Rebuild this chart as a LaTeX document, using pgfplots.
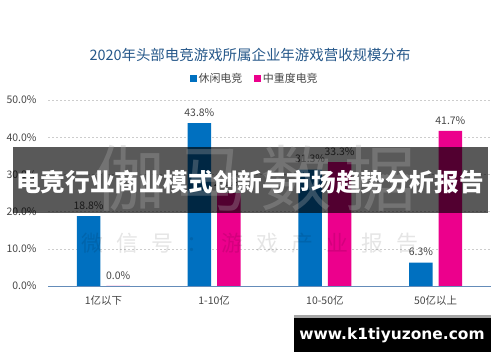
\documentclass[border=0pt]{standalone}
\usepackage{pgfplots}
\pgfplotsset{compat=1.18}
\usepackage{fontspec}
\setmainfont{Noto Sans CJK SC}
\newfontfamily\urlfont{DejaVu Sans}
\definecolor{cblue}{RGB}{0,112,192}
\definecolor{cpink}{RGB}{236,0,140}
\definecolor{ctitle}{RGB}{38,88,138}
\definecolor{ctext}{RGB}{70,70,70}
\definecolor{caxis}{RGB}{100,140,185}
\definecolor{cgrid}{RGB}{205,205,205}
\begin{document}
\begin{tikzpicture}[x=1bp,y=1bp]
\path[use as bounding box, fill=white] (0bp,0bp) rectangle (500bp,362bp);
\begin{axis}[
  at={(48bp,76bp)}, anchor=south west, scale only axis,
  width=443bp, height=186bp,
  ybar=6bp, bar width=23.5bp,
  xmin=-0.5, xmax=3.5, ymin=0, ymax=50,
  xtick={0,1,2,3},
  xticklabels={1亿以下,1-10亿,10-50亿,50亿以上},
  ytick={0,10,20,30,40,50},
  yticklabel={\pgfmathprintnumber[fixed,fixed zerofill,precision=1]{\tick}\%},
  /pgf/number format/assume math mode=true,
  major tick length=0pt,
  axis x line*=bottom, axis y line*=left,
  x axis line style={draw=caxis, line width=0.8pt, -},
  y axis line style={draw=none},
  ymajorgrids, grid style={cgrid, dash pattern=on 2bp off 2bp, line width=0.5pt},
  tick label style={font=\fontsize{10.5}{12}\selectfont, text=ctext},
  xticklabel style={yshift=-6bp},
  yticklabel style={xshift=-8bp},
  nodes near coords={\pgfmathprintnumber[fixed,fixed zerofill,precision=1]{\pgfplotspointmeta}\%},
  every node near coord/.append style={font=\fontsize{10.5}{12}\selectfont, text=ctext, yshift=3bp},
  legend style={at={(rel axis cs:0.467,1.113)}, anchor=center, draw=none, fill=none,
    legend columns=2, font=\fontsize{11}{13}\selectfont, text=ctext,
    /tikz/every even column/.append style={column sep=10bp}},
  legend image code/.code={\path[#1, draw=none] (0bp,-3bp) rectangle (6.5bp,3.5bp);},
]
\addplot[fill=cblue, draw=none] coordinates {(0,18.8) (1,43.8) (2,31.3) (3,6.3)};
\addplot[fill=cpink, draw=none] coordinates {(0,0.0) (1,25.0) (2,33.3) (3,41.7)};
\legend{休闲电竞,中重度电竞}
\end{axis}
\node[text=ctitle, font=\fontsize{14.5}{16}\selectfont] at (250bp,307bp) {2020年头部电竞游戏所属企业年游戏营收规模分布};
% light watermark line
\node[text=black, opacity=0.10, font=\fontsize{22}{24}\selectfont] at (250bp,119bp) {微\hspace{13bp}信\hspace{13bp}号\hspace{13bp}：\hspace{13bp}游\hspace{13bp}戏\hspace{13bp}产\hspace{13bp}业\hspace{13bp}报\hspace{13bp}告};
% banner
\fill[black, opacity=0.65] (13bp,149bp) rectangle (488bp,215bp);
\node[text=gray!60, opacity=0.3, font=\fontsize{72}{76}\selectfont] at (255bp,184bp) {伽\hspace{12bp}马\hspace{12bp}数\hspace{12bp}据};
\node[text=white, font=\bfseries\fontsize{24.7}{28}\selectfont, inner sep=0pt] at (250bp,180bp) {电竞行业商业模式创新与市场趋势分析报告};
% bottom url box
\fill[gray!70] (294bp,44bp) rectangle (491bp,47bp);
\fill[black] (294bp,10bp) rectangle (491bp,44bp);
\node[text=white, font=\urlfont\bfseries\fontsize{15.5}{18}\selectfont] at (392bp,27bp) {www.k1tiyuzone.com};
\end{tikzpicture}
\end{document}
